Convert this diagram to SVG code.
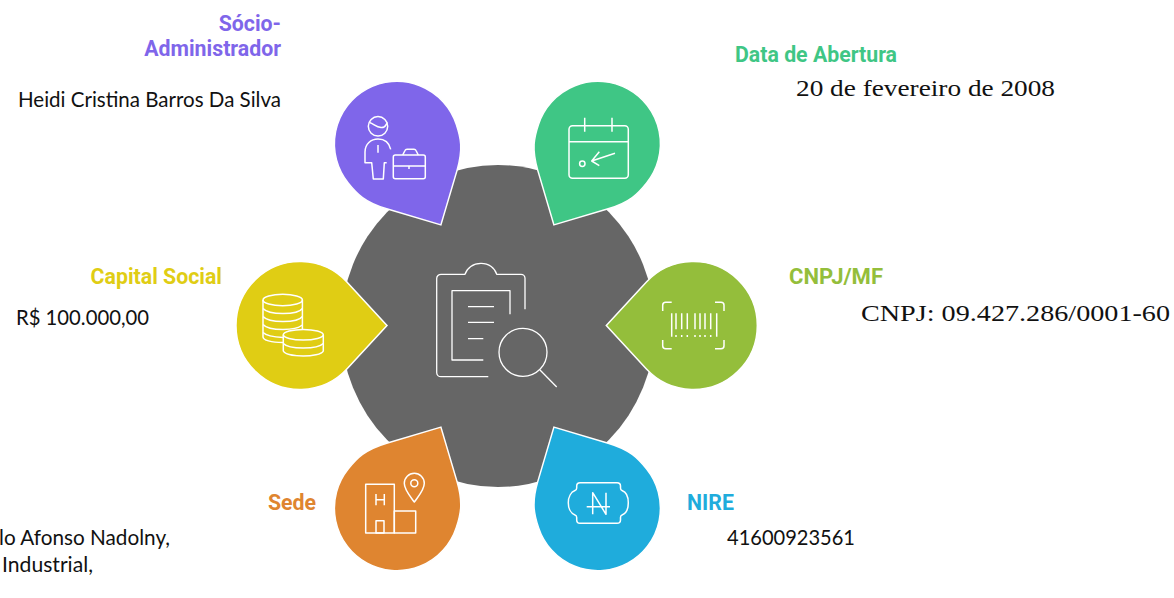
<svg xmlns="http://www.w3.org/2000/svg" width="1174" height="598" viewBox="0 0 1174 598">
<style>
.drop{stroke:#fff;stroke-width:1.5;stroke-linejoin:miter}
.ic{fill:none;stroke:#fff;stroke-width:1.5;stroke-linecap:butt;stroke-linejoin:round}
.ict{fill:none;stroke:#fff;stroke-width:1.3;stroke-linejoin:round}
.h{font-family:Roboto,"Liberation Sans",sans-serif;font-weight:700;font-size:21.3px}
.b{font-family:Lato,"Open Sans",sans-serif;font-size:20.500px;fill:#111}
.s{font-family:"Liberation Serif","DejaVu Serif",serif;font-size:24px;fill:#111}
</style>
<defs>
<path id="d1" d="M87 0L47.100-43.300A64 64 0 1 0 47.100 43.300Z"/>
<path id="d2" d="M92 0L52-40C36-56 24.700-59.100 10.900-61.500A62.500 62.500 0 1 0 10.900 61.500C24.700 59.100 36 56 52 40Z"/>
</defs>
<g id="center">
<ellipse cx="498" cy="326" rx="157" ry="161" fill="#666"/>
<g class="ict">
<path d="M488.300 376.700H441a4.300 4.300 0 0 1-4.300-4.300V278.600a4.300 4.300 0 0 1 4.300-4.300H465C467 268 473 263.300 481 263.300S495 268 496.700 274.300H521a4 4 0 0 1 4 4V309.300"/>
<path d="M483.300 360H452V290.700H510V314.300"/>
<path d="M468 306.700H494M468 322.300H494M468 338.700H483.300"/>
<circle cx="523" cy="352.300" r="24"/>
<path d="M540 370L556.700 387"/>
</g>
</g>
<g id="connectors"></g>
<g id="socio">
<use href="#d2" transform="translate(397 144) rotate(61.500)" fill="#7F66EA" class="drop"/>
<g class="ic">
<circle cx="378" cy="126.300" r="9.700"/>
<path d="M369.500 122.500C374 124 376 127 381 127.500S385.500 124.500 387.500 122.500"/>
<path d="M390.700 149.300C389 142 384 139 378 139C371 139 365 144 365 152V162.700H371.700L373.300 179H383.300L384.300 162.700H386.700"/>
<path d="M378 145V152.700"/>
<rect x="393.300" y="155" width="32" height="23.700" rx="2"/>
<path d="M402.700 155L405 150.500Q405.500 149.300 407 149.300H414Q415.500 149.300 416 150.500L418.300 155M393.300 166H425.300M409 166V169"/>
</g>
<text class="h" fill="#7F66EA" text-anchor="end" x="281" y="31">Sócio-</text>
<text class="h" fill="#7F66EA" text-anchor="end" x="281" y="56">Administrador</text>
<text class="b" x="18" y="107" textLength="263" lengthAdjust="spacingAndGlyphs">Heidi Cristina Barros Da Silva</text>
</g>
<g id="abertura">
<use href="#d2" transform="translate(597.800 144) rotate(118.500)" fill="#3FC685" class="drop"/>
<g class="ic">
<rect x="569" y="125.700" width="59.300" height="52.600" rx="3.500"/>
<path d="M569 141.700H628.300M584.700 117.700V131.700M612 117.700V131.700"/>
<circle cx="582.300" cy="163.700" r="2.700"/>
<path d="M615 153.300L591.700 161M599.300 151.700L591.700 161L599.300 165.700"/>
</g>
<text class="h" fill="#3FC685" x="735" y="61.500">Data de Abertura</text>
<text class="s" x="796" y="95.500" textLength="259" lengthAdjust="spacingAndGlyphs">20 de fevereiro de 2008</text>
</g>
<g id="capital">
<use href="#d1" transform="translate(300 325.500)" fill="#E0CD14" class="drop"/>
<g class="ic">
<ellipse cx="282.700" cy="300" rx="19.700" ry="5.700"/>
<path d="M263 300V337C263 340 271 342.500 283 342.500M302.400 300V329"/>
<path d="M263 308.500C266 312 275 313.500 283 313.500S300 312 302.400 308.500M263 316.500C266 320 275 321.500 283 321.500S300 320 302.400 316.500M263 324.500C266 328 275 329.500 283 329.500S298 328.500 302.400 325M263 332.500C266 335.500 272 337 283 337.500"/>
<ellipse cx="303.300" cy="334.700" rx="20" ry="5.300"/>
<path d="M283.300 334.700V351C285 354.500 295 356 303.300 356S322 354.500 323.300 351V334.700"/>
<path d="M283.300 343.500C286 346.500 295 348 303.300 348S320.500 346.500 323.300 343.500"/>
</g>
<text class="h" fill="#E0CD14" text-anchor="end" x="222" y="284">Capital Social</text>
<text class="b" x="16" y="325" textLength="133" lengthAdjust="spacingAndGlyphs">R$ 100.000,00</text>
</g>
<g id="cnpj">
<use href="#d1" transform="translate(693.300 325.500) rotate(180)" fill="#94BE3B" class="drop"/>
<g class="ic">
<path d="M662.700 311V305.300Q662.700 302.300 665.700 302.300H671.700M715 302.300H721Q724 302.300 724 305.300V311M724 340V345.700Q724 348.700 721 348.700H715M671.700 348.700H665.700Q662.700 348.700 662.700 345.700V340"/>
<path d="M671.700 313.300V336.700M716.700 313.300V336.700M676 313.300V329.300M681.700 313.300V329.300M687.300 313.300V329.300M695 313.300V329.300M700 313.300V329.300M705 313.300V329.300M710.700 313.300V329.300M676 335V337M681.700 335V337M695 335V337M700 335V337M705 335V337M687.300 335V337M710.700 335V337"/>
</g>
<text class="h" fill="#94BE3B" x="789" y="284" textLength="94" lengthAdjust="spacingAndGlyphs">CNPJ/MF</text>
<text class="s" x="861" y="321" textLength="309" lengthAdjust="spacingAndGlyphs">CNPJ: 09.427.286/0001-60</text>
</g>
<g id="sede">
<use href="#d2" transform="translate(397 508) rotate(-61.500)" fill="#DF8530" class="drop"/>
<g class="ic">
<rect x="365.700" y="484.300" width="28.600" height="48.700"/>
<path d="M376 494V505.300M384.300 494V505.300M376 499.700H384.300"/>
<rect x="376" y="520.700" width="8" height="12.300"/>
<rect x="394.300" y="511" width="21.400" height="22"/>
<path d="M414.300 502C410 496 404.300 490 404.300 483.300A10 10 0 0 1 424.300 483.300C424.300 490 418.600 496 414.300 502Z"/>
<circle cx="414.300" cy="483.300" r="3.500"/>
</g>
<text class="h" fill="#DF8530" text-anchor="end" x="316" y="510">Sede</text>
<text class="b" x="-1" y="544.500" textLength="171" lengthAdjust="spacingAndGlyphs">lo Afonso Nadolny,</text>
<text class="b" x="2" y="571.500" textLength="91" lengthAdjust="spacingAndGlyphs">Industrial,</text>
</g>
<g id="nire">
<use href="#d2" transform="translate(597.800 508) rotate(-118.500)" fill="#1FACDC" class="drop"/>
<g class="ic">
<path d="M580 482.700H617Q620.500 482.700 620.500 486V488Q620.500 490 622 490.500C626 492 628.300 497 628.300 502.700S626 513.500 622 515Q620.500 515.500 620.500 517.500V520Q620.500 523.300 617 523.300H580Q576.700 523.300 576.700 520V517.500Q576.700 515.500 575 515C571 513.500 568.300 508.500 568.300 502.700S571 492 575 490.500Q576.700 490 576.700 488V486Q576.700 482.700 580 482.700Z"/>
<path d="M592.700 514.300V492.700L606 514.300V492.700M586.700 506.700H610"/>
</g>
<text class="h" fill="#1FACDC" x="687" y="510">NIRE</text>
<text class="b" x="727" y="544.500" textLength="128" lengthAdjust="spacingAndGlyphs">41600923561</text>
</g>
</svg>
